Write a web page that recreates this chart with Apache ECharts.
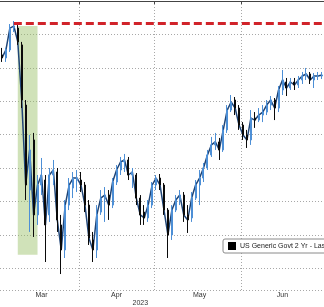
<!DOCTYPE html>
<html>
<head>
<meta charset="utf-8">
<script src="https://cdn.jsdelivr.net/npm/echarts@6/dist/echarts.min.js"></script>
<style>
html,body{margin:0;padding:0;background:#fff;}
#c{width:324px;height:307px;}
</style>
</head>
<body>
<div id="c"></div>
<script>
// Trading days shown
const dates = [
 '2023-03-06','2023-03-07','2023-03-08','2023-03-09','2023-03-10','2023-03-13','2023-03-14','2023-03-15','2023-03-16','2023-03-17',
 '2023-03-20','2023-03-21','2023-03-22','2023-03-23','2023-03-24','2023-03-27','2023-03-28','2023-03-29','2023-03-30','2023-03-31',
 '2023-04-03','2023-04-04','2023-04-05','2023-04-06','2023-04-10','2023-04-11','2023-04-12','2023-04-13','2023-04-14',
 '2023-04-17','2023-04-18','2023-04-19','2023-04-20','2023-04-21','2023-04-24','2023-04-25','2023-04-26','2023-04-27','2023-04-28',
 '2023-05-01','2023-05-02','2023-05-03','2023-05-04','2023-05-05','2023-05-08','2023-05-09','2023-05-10','2023-05-11','2023-05-12',
 '2023-05-15','2023-05-16','2023-05-17','2023-05-18','2023-05-19','2023-05-22','2023-05-23','2023-05-24','2023-05-25','2023-05-26',
 '2023-05-30','2023-05-31',
 '2023-06-01','2023-06-02','2023-06-05','2023-06-06','2023-06-07','2023-06-08','2023-06-09','2023-06-12','2023-06-13','2023-06-14',
 '2023-06-15','2023-06-16','2023-06-20','2023-06-21','2023-06-22','2023-06-23','2023-06-26','2023-06-27','2023-06-28','2023-06-29','2023-06-30'
];
// [open, close, low, high] (%), US 2Y yield
const prices = [
 [4.877,4.859,4.835,4.919],[4.859,4.907,4.835,4.919],[4.907,5.038,4.895,5.062],[5.038,5.050,5.014,5.080],[5.038,4.955,4.937,5.056],
 [4.937,4.607,4.559,4.955],[4.577,4.098,4.008,4.607],[4.068,4.308,3.817,4.398],[4.368,3.919,3.787,4.410],[3.919,4.098,3.859,4.158],
 [4.098,4.158,4.038,4.260],[4.128,3.859,3.637,4.158],[3.919,4.158,3.877,4.200],[4.158,4.188,4.098,4.248],[4.176,3.889,3.817,4.200],
 [3.859,3.709,3.565,3.919],[3.709,3.978,3.661,4.008],[3.978,4.098,3.948,4.140],[4.080,4.140,4.020,4.176],[4.128,4.140,4.056,4.188],
 [4.128,4.098,4.056,4.176],[4.098,3.978,3.936,4.116],[3.978,3.781,3.739,4.008],[3.769,3.709,3.637,3.817],[3.709,3.919,3.661,3.978],
 [3.936,4.020,3.919,4.068],[4.020,4.038,3.877,4.086],[4.038,3.978,3.889,4.068],[3.978,4.116,3.960,4.140],[4.116,4.188,4.098,4.218],
 [4.188,4.236,4.158,4.266],[4.236,4.248,4.176,4.284],[4.248,4.158,4.128,4.266],[4.158,4.176,4.080,4.200],[4.158,4.020,3.978,4.170],
 [4.020,3.919,3.859,4.038],[3.936,3.901,3.859,3.978],[3.901,3.978,3.877,4.008],[3.978,4.098,3.960,4.116],
 [4.098,4.140,4.068,4.158],[4.140,4.098,4.068,4.164],[4.098,3.948,3.919,4.110],[3.948,3.799,3.661,3.960],[3.799,3.948,3.769,3.978],
 [3.948,4.008,3.936,4.038],[4.008,4.038,3.978,4.068],[4.038,3.919,3.877,4.056],[3.919,3.889,3.811,3.978],[3.901,4.020,3.877,4.056],
 [4.020,4.098,4.008,4.128],[4.098,4.140,3.978,4.188],[4.140,4.200,4.116,4.230],[4.200,4.278,4.188,4.308],[4.278,4.338,4.266,4.386],
 [4.338,4.356,4.308,4.410],[4.356,4.308,4.248,4.380],[4.308,4.428,4.296,4.457],[4.428,4.547,4.410,4.577],[4.547,4.595,4.535,4.637],
 [4.607,4.559,4.517,4.625],[4.559,4.457,4.428,4.577],
 [4.457,4.398,4.368,4.475],[4.398,4.368,4.320,4.428],[4.368,4.499,4.338,4.547],[4.499,4.487,4.440,4.535],[4.487,4.517,4.475,4.559],
 [4.517,4.535,4.475,4.577],[4.535,4.577,4.517,4.607],[4.577,4.607,4.547,4.631],[4.607,4.559,4.487,4.619],[4.559,4.667,4.535,4.691],
 [4.667,4.727,4.637,4.787],[4.715,4.679,4.631,4.739],[4.679,4.715,4.667,4.739],[4.715,4.697,4.667,4.739],[4.697,4.727,4.679,4.751],
 [4.727,4.751,4.703,4.775],[4.751,4.763,4.727,4.799],[4.763,4.727,4.703,4.775],[4.727,4.751,4.679,4.769],[4.751,4.751,4.727,4.775],
 [4.751,4.757,4.733,4.775]
];
const seriesName = 'US Generic Govt 2 Yr - Last Price';
const monthNames = ['Jan','Feb','Mar','Apr','May','Jun','Jul','Aug','Sep','Oct','Nov','Dec'];
const peakLevel = 5.068;           // red dashed line
const peakStart = '2023-03-09';
const bandStart = '2023-03-10';     // shaded SVB window
const bandEnd = '2023-03-17';
const bandHigh = 5.05, bandLow = 3.68;
const yearLabel = '2023';
const yearLabelAt = '2023-04-25';
const yMax = 5.2, yStep = 0.2;
const yMin = 3.4694;

const monthStarts = new Set(), monthMids = new Set();
(function(){
  const groups = {};
  dates.forEach((d,i)=>{ const m = d.slice(0,7); (groups[m] = groups[m] || []).push(i); });
  Object.keys(groups).forEach((m,k)=>{
    const g = groups[m];
    if (k > 0) monthStarts.add(g[0]);
    monthMids.add(g[Math.floor(g.length/2)]);
  });
})();
const yearIdx = dates.indexOf(yearLabelAt);
const gridSteps = (yMax - yMin) / yStep;
const closes = prices.map(p => p[1]);

const chart = echarts.init(document.getElementById('c'), null, {renderer:'canvas'});
const font = 'Liberation Sans, Arial, sans-serif';
const dotted = {color:'#a8a8a8', type:[1,2], width:1};
chart.setOption({
  animation:false,
  backgroundColor:'#fff',
  textStyle:{fontFamily:font},
  grid:{left:-1, right:-3, top:1, bottom:17, containLabel:false},
  legend:{
    show:true, left:223, top:239, orient:'horizontal',
    padding:[3,6,3,5], itemWidth:6, itemHeight:6, itemGap:4,
    backgroundColor:'#fff', borderColor:'#8a8a8a', borderWidth:1, borderRadius:2,
    textStyle:{fontSize:7, color:'#222', fontFamily:font},
    data:[{name:seriesName, icon:'rect', itemStyle:{color:'#000', borderColor:'#000'}}]
  },
  xAxis:[{
    type:'category', data:dates, boundaryGap:true, gridIndex:0,
    axisLine:{show:true, lineStyle:{color:'#444', width:1}},
    axisTick:{show:true, length:3, interval:(i)=>monthStarts.has(i), lineStyle:{color:'#444'}},
    splitLine:{show:true, interval:(i)=>monthStarts.has(i), lineStyle:dotted},
    axisLabel:{interval:(i)=>monthMids.has(i), formatter:(v)=>monthNames[+v.slice(5,7)-1], fontSize:7, color:'#333', margin:2, fontFamily:font}
  },{
    type:'category', data:dates, boundaryGap:true, gridIndex:0, position:'bottom', offset:9,
    axisLine:{show:false}, axisTick:{show:false}, splitLine:{show:false},
    axisLabel:{interval:(i)=>i===yearIdx, formatter:()=>yearLabel, fontSize:7, color:'#333', margin:1, fontFamily:font}
  }],
  yAxis:[{
    type:'value', min:yMin, max:yMax, show:false, splitLine:{show:false}
  },{
    type:'value', inverse:true, min:0, max:gridSteps, interval:1,
    axisLine:{show:false}, axisTick:{show:false}, axisLabel:{show:false},
    splitLine:{show:true, lineStyle:dotted}
  }],
  series:[{
    name:seriesName, type:'candlestick', xAxisIndex:0, yAxisIndex:0,
    data:prices, barWidth:1.5, z:3,
    itemStyle:{color:'#4d8fd6', color0:'#0a0a0a', borderColor:'#4d8fd6', borderColor0:'#0a0a0a', borderWidth:1},
    markLine:{
      silent:true, symbol:['none','none'], label:{show:false},
      lineStyle:{color:'#d1232a', type:[8,4], width:3},
      data:[[{coord:[peakStart, peakLevel]},{coord:[dates[dates.length-1], peakLevel]}]]
    },
    markArea:{
      silent:true,
      itemStyle:{color:'rgba(150,190,100,0.45)'},
      data:[[{coord:[bandStart, bandHigh]},{coord:[bandEnd, bandLow]}]]
    }
  },{
    name:'close', type:'line', xAxisIndex:0, yAxisIndex:0, data:closes, z:2,
    symbol:'none', lineStyle:{color:'#1f4577', width:1.5}, legendHoverLink:false
  }]
});
</script>
</body>
</html>
